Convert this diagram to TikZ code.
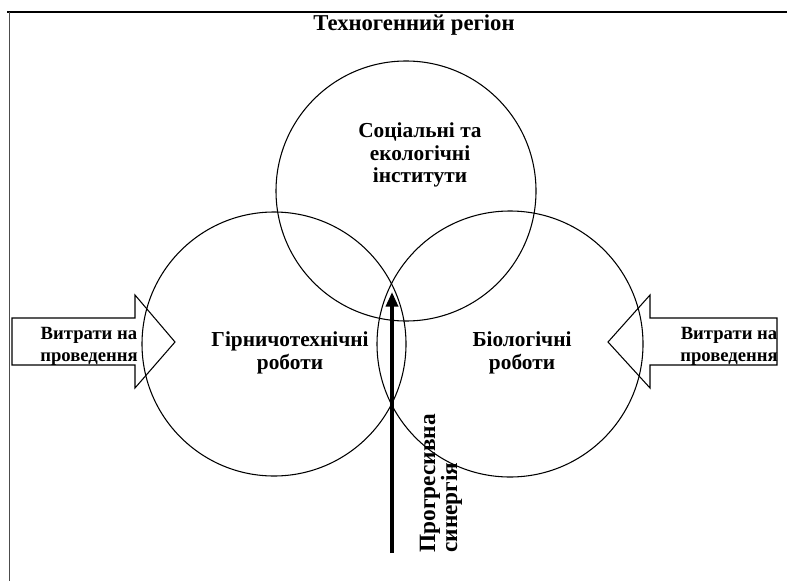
\documentclass[tikz,border=0pt]{standalone}
\usepackage{fontspec}
\setmainfont{Liberation Serif}
\usetikzlibrary{arrows.meta}
\tikzset{
  lbl/.style={font=\bfseries\fontsize{16}{17}\selectfont, align=center, inner sep=0pt},
  albl/.style={font=\bfseries\fontsize{14}{16.5}\selectfont, align=center, inner sep=0pt},
  vlbl/.style={font=\bfseries\fontsize{17.5}{18}\selectfont, inner sep=0pt, rotate=90, anchor=base west},
  ring/.style={draw=black, line width=0.8pt, circle, inner sep=0pt},
  bigarrow/.style={draw=black, line width=0.8pt, fill=white},
}
\begin{document}
\begin{tikzpicture}[x=0.75pt,y=-0.75pt]
\useasboundingbox (0,0) rectangle (787,581);
% frame
\coordinate (fa) at (7,12);
\coordinate (fb) at (787,12);
\coordinate (fc) at (9.5,12);
\coordinate (fd) at (9.5,581);
\draw[line width=1pt] (fa) -- (fb);
\draw[gray!60!black, line width=1.2pt] (fc) -- (fd);
\node[lbl, font=\bfseries\fontsize{17}{18}\selectfont] (title) at (414,25) {Техногенний регіон};
% arrows (input)
\draw[bigarrow] (12,318) -- (135,318) -- (135,295) -- (175,342) -- (135,388) -- (135,365) -- (12,365) -- cycle;
\draw[bigarrow] (608,342) -- (650,295) -- (650,318) -- (777,318) -- (777,365) -- (650,365) -- (650,388) -- cycle;
% circles
\node[ring, minimum size=260*0.75pt] (soc) at (406,191) {};
\node[ring, minimum size=264*0.75pt] (gir) at (274,344) {};
\node[ring, minimum size=266*0.75pt] (bio) at (510,344) {};
\node[lbl] (soct) at (420,155) {Соціальні та\\екологічні\\інститути};
\node[lbl] (girt) at (290,353) {Гірничотехнічні\\роботи};
\node[lbl] (biot) at (522,353) {Біологічні\\роботи};
% clipped texts in arrows
\begin{scope}
\clip (12,318) rectangle (160,365);
\node[albl] (lt) at (89,346) {Витрати на\\проведення};
\end{scope}
\begin{scope}
\clip (650,318) rectangle (777,365);
\node[albl, anchor=west] (rt) at (680,346) {Витрати на\\проведення};
\end{scope}
% synergy arrow
\coordinate (sb) at (392,553);
\coordinate (st) at (392,292);
\draw[line width=3.5pt*0.75, -{Triangle[length=11pt, width=9pt]}] (sb) -- (st);
\node[vlbl] (syn1) at (435,553) {Прогресивна};
\node[vlbl] (syn2) at (457,553) {синергія};
\end{tikzpicture}
\end{document}
